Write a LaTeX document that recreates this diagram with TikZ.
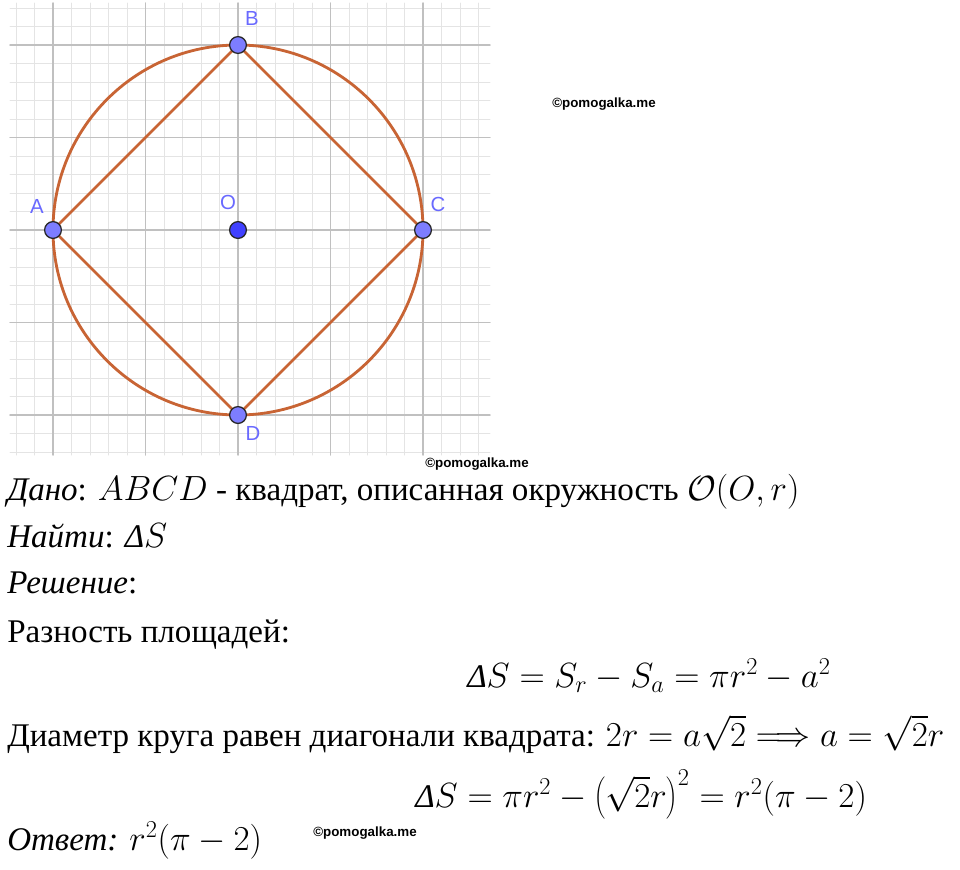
\documentclass[tikz,border=0pt]{standalone}
\usepackage[no-math]{fontspec}
\setmainfont{Liberation Serif}
\newfontfamily\ptfont{Liberation Sans}
\definecolor{arcbrown}{RGB}{200,100,52}
\definecolor{ptblue}{RGB}{125,125,255}
\definecolor{ptdark}{RGB}{64,64,255}
\definecolor{lblblue}{RGB}{105,105,255}
\definecolor{gridmajor}{RGB}{192,192,192}
\definecolor{gridminor}{RGB}{228,228,228}
\newcommand{\dS}{\textit{Δ}S}

\begin{document}
\begin{tikzpicture}[x=0.025cm,y=-0.025cm,line join=round,line cap=round]
	\tikzset{pt/.style={circle,draw=black!85,line width=0.9pt,fill=ptblue,inner sep=0pt,minimum size=0.42cm},
		ptlabel/.style={text=lblblue,inner sep=0pt,font=\ptfont\fontsize{14.5}{15}\selectfont},
		txt/.style={anchor=base west,inner sep=0pt,font=\fontsize{23.5}{28}\selectfont},
		wm/.style={anchor=base,inner sep=0pt,font=\ptfont\bfseries\fontsize{9.5}{10}\selectfont}}
	\useasboundingbox (0,0) rectangle (960,869);
	\fill[white] (0,0) rectangle (960,869);
	\foreach \i in {-2,...,23}{
		\draw[gridminor,line width=0.7pt] ({53+18.5*\i},3)--({53+18.5*\i},455);
	}
	\foreach \i in {-2,...,22}{
		\draw[gridminor,line width=0.7pt] (10,{45+18.5*\i})--(490,{45+18.5*\i});
	}
	\foreach \i in {0,...,4}{
		\draw[gridmajor,line width=1pt] ({53+92.5*\i},3)--({53+92.5*\i},455);
		\draw[gridmajor,line width=1pt] (10,{45+92.5*\i})--(490,{45+92.5*\i});
	}
	\coordinate (O) at (238,230);
	\coordinate (A) at (53,230);
	\coordinate (B) at (238,45);
	\coordinate (C) at (423,230);
	\coordinate (D) at (238,415);
	\draw[arcbrown,line width=2pt] (O) circle (185);
	\draw[arcbrown,line width=2pt] (A)--(B)--(C)--(D)--cycle;
	\foreach \n in {A,B,C,D}{
		\node[pt] (p\n) at (\n) {};
	}
	\node[pt,fill=ptdark] (pO) at (O) {};
	\path
	(37,206) node[ptlabel] (lA) {A}
	(252,18) node[ptlabel] (lB) {B}
	(438,204) node[ptlabel] (lC) {C}
	(253,433) node[ptlabel] (lD) {D}
	(228,202) node[ptlabel] (lO) {O}
	;
	\path
	(604,107) node[wm] (wm1) {©pomogalka.me}
	(477,467) node[wm] (wm2) {©pomogalka.me}
	(365,836) node[wm] (wm3) {©pomogalka.me}
	;
	\path
	(7,500) node[txt] (given) {\textit{Дано}: $ABCD$ - квадрат, описанная окружность $\mathcal{O}(O,r)$}
	(7,547) node[txt] (find) {\textit{Найти}: $\dS$}
	(7,593) node[txt] (sol) {\textit{Решение}:}
	(7,642) node[txt] (diff) {Разность площадей:}
	(467,687) node[txt] (eq1) {$\dS=S_r-S_a=\pi r^2-a^2$}
	(7,746) node[txt] (diam) {Диаметр круга равен диагонали квадрата: $2r=a\sqrt{2}\Longrightarrow a=\sqrt{2}r$}
	(415,807) node[txt] (eq2) {$\dS=\pi r^2-\left(\sqrt{2}r\right)^2=r^2(\pi-2)$}
	(7,850) node[txt] (ans) {\textit{Ответ:} $r^2(\pi-2)$}
	;
\end{tikzpicture}
\end{document}
